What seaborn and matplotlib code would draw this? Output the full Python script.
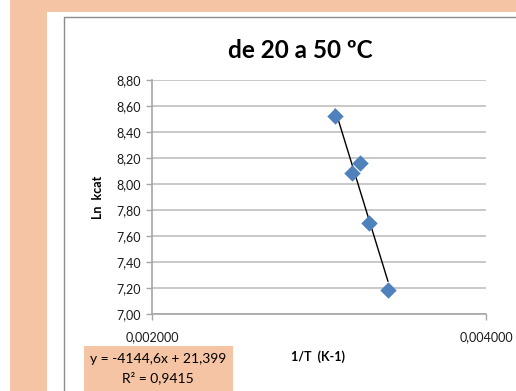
import matplotlib
matplotlib.use("Agg")
import matplotlib.pyplot as plt
import seaborn as sns
import numpy as np
import pandas as pd
from matplotlib.patches import Rectangle
from matplotlib.lines import Line2D
from matplotlib.ticker import FuncFormatter, MultipleLocator

# Data
inv_T = [0.003096, 0.003247, 0.003195, 0.003300, 0.003413]
ln_kcat = [8.52, 8.165, 8.085, 7.70, 7.185]
title = "de 20 a 50 ºC"
x_label = "1/T  (K-1)"
y_label = "Ln  kcat"
eq_lines = ["y = -4144,6x + 21,399", "R² = 0,9415"]
x_ticks = [0.002, 0.004]

df = pd.DataFrame({"x": inv_T, "y": ln_kcat})

sns.set_theme(style="white")
plt.rcParams["font.family"] = ["Lato", "DejaVu Sans"]

W, H = 516, 391
PEACH = "#F5C4A4"
fig = plt.figure(figsize=(W / 100, H / 100), dpi=100)
fig.patch.set_facecolor(PEACH)

def fx(px):
    return px / W

def fy(py):
    return 1 - py / H

# white areas
fig.patches.append(Rectangle((0, 0), fx(10), 1, transform=fig.transFigure,
                             facecolor="white", edgecolor="none", zorder=-2))
fig.patches.append(Rectangle((fx(47), 0), 1 - fx(47), fy(12), transform=fig.transFigure,
                             facecolor="white", edgecolor="none", zorder=-2))
# chart border
fig.lines.append(Line2D([fx(64), fx(64)], [0, fy(17)], transform=fig.transFigure,
                        color="#8C8C8C", lw=1.0, zorder=-1))
fig.lines.append(Line2D([fx(64), 1], [fy(17), fy(17)], transform=fig.transFigure,
                        color="#8C8C8C", lw=1.0, zorder=-1))

ax = fig.add_axes([fx(152), fy(314), fx(486) - fx(152), fy(80) - fy(314)])
ax.set_facecolor("none")
ax.set_zorder(5)

sns.regplot(data=df, x="x", y="y", scatter=False, ci=None, ax=ax,
            line_kws=dict(color="black", lw=1.0, zorder=3))
sns.scatterplot(data=df, x="x", y="y", marker="D", s=70, color="#4F81BD",
                edgecolor="#4F81BD", linewidth=0, ax=ax, zorder=4)

ax.set_xlim(0.002, 0.004)
ax.set_ylim(7.0, 8.8)
ax.yaxis.set_major_locator(MultipleLocator(0.2))
ax.set_xticks(x_ticks)
ax.yaxis.set_major_formatter(FuncFormatter(lambda v, p: f"{v:.2f}".replace(".", ",")))
ax.xaxis.set_major_formatter(FuncFormatter(lambda v, p: f"{v:.6f}".replace(".", ",")))
ax.grid(axis="y", color="#BFBFBF", lw=1.2)
ax.grid(axis="x", visible=False)
for s in ["top", "right"]:
    ax.spines[s].set_visible(False)
for s in ["left", "bottom"]:
    ax.spines[s].set_color("#A6A6A6")
    ax.spines[s].set_linewidth(1.2)
ax.tick_params(axis="y", which="major", length=4, width=1, color="#A6A6A6",
               labelsize=9, pad=4, left=True, labelcolor="#1a1a1a")
ax.tick_params(axis="x", which="major", length=4, width=1, color="#A6A6A6",
               labelsize=9, pad=8, bottom=True, labelcolor="#1a1a1a")
ax.set_xlabel("")
ax.set_ylabel("")

fig.text(fx(300), fy(50), title, ha="center", va="center", fontsize=17.5,
         fontweight="bold", color="black")
fig.text(fx(98), fy(197), y_label, ha="center", va="center", rotation=90,
         fontsize=9, fontweight="bold", color="black")
fig.text(fx(318), fy(357), x_label, ha="center", va="center",
         fontsize=9, fontweight="bold", color="black")

fig.patches.append(Rectangle((fx(84), 0), fx(233) - fx(84), fy(346), transform=fig.transFigure,
                             facecolor=PEACH, edgecolor="none", zorder=2))
fig.text(fx(158), fy(359), eq_lines[0], ha="center", va="center", fontsize=10, color="black", zorder=3)
fig.text(fx(158), fy(378), eq_lines[1], ha="center", va="center", fontsize=10, color="black", zorder=3)

fig.savefig("out.png", dpi=100, facecolor=fig.get_facecolor())
